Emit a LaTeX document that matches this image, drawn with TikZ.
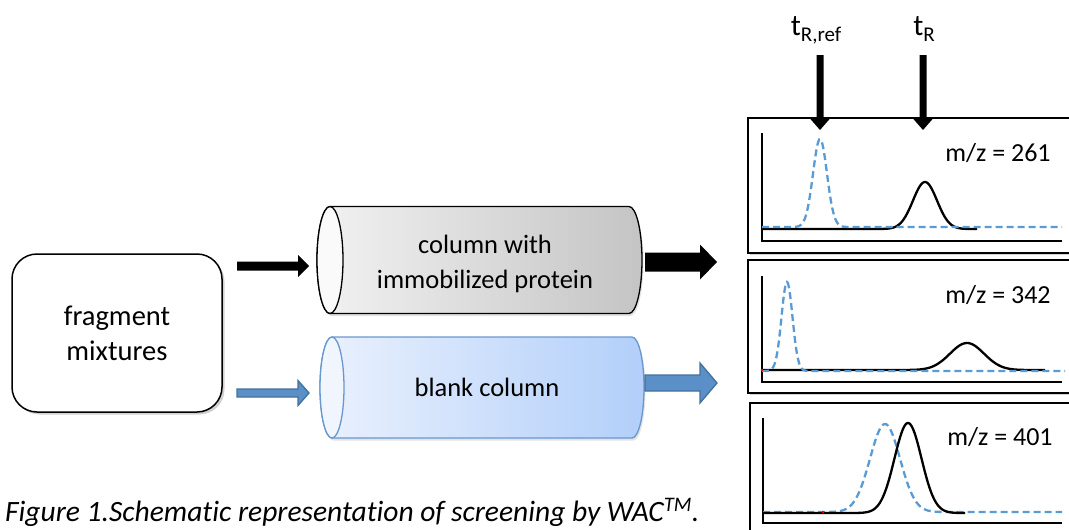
\documentclass[tikz,border=0pt]{standalone}
\usepackage{fontspec}
\setmainfont{Carlito}[Ligatures=NoCommon]
\usetikzlibrary{shadows}

\definecolor{refblue}{RGB}{91,155,213}
\definecolor{arrblue}{RGB}{91,143,199}
\definecolor{arrblueline}{RGB}{65,113,156}
\definecolor{cylblueline}{RGB}{104,152,206}
\definecolor{cylblueL}{RGB}{234,241,253}
\definecolor{cylblueR}{RGB}{178,207,250}
\definecolor{cylblueface}{RGB}{241,246,254}
\definecolor{cylgrayL}{RGB}{242,242,242}
\definecolor{cylgrayR}{RGB}{196,196,196}

% outline of a lying cylinder: flat face on the left, rounded end on the right
\newcommand\cylpath[5]{(#1,#3-#5) -- (#2,#3-#5)
  arc[start angle=-90,end angle=90,x radius=#4,y radius=#5]
  -- (#1,#3+#5)
  arc[start angle=90,end angle=270,x radius=#4,y radius=#5] -- cycle}

\begin{document}
\begin{tikzpicture}[x=1pt,y=-1pt,
  txt/.style={font=\fontsize{26.5}{35}\selectfont, align=center, inner sep=0pt},
  softshadow/.style={drop shadow={shadow xshift=2.5pt, shadow yshift=-2.5pt,
      opacity=0.3, fill=black!60}},
  lightshadow/.style={drop shadow={shadow xshift=1.5pt, shadow yshift=-2.5pt,
      opacity=0.18, fill=black!60}},
  panel/.style={draw=black, line width=1.5pt, fill=white, softshadow,
      anchor=north west, inner sep=0pt, minimum width=340pt},
  axis/.style={line width=2.8pt, black},
  sig/.style={line width=2.3pt, black},
  refsig/.style={line width=2.3pt, refblue, dash pattern=on 7pt off 4pt},
  pics/barrow/.style args={#1/#2/#3/#4}{code={
      \path[pic actions] (0,-#2) -- ({#1-#4},-#2) -- ({#1-#4},-#3) -- (#1,0)
        -- ({#1-#4},#3) -- ({#1-#4},#2) -- (0,#2) -- cycle;}},
  blackarrow/.style={fill=black},
  bluearrow/.style={fill=arrblue, draw=arrblueline, line width=1.3pt}
]
\useasboundingbox (0,0) rectangle (1069,530);
\clip (0,0) rectangle (1069,530);

% sample box
\node[draw, line width=1.5pt, rounded corners=25pt, fill=white, softshadow,
      minimum width=210pt, minimum height=158pt,
      font=\fontsize{28.5}{35}\selectfont, align=center] (frag) at (117,333)
      {fragment\\mixtures};

% column with immobilized protein
\path[draw, line width=1.3pt, left color=cylgrayL, right color=cylgrayR, lightshadow]
  \cylpath{330}{629}{260}{13}{53.5};
\filldraw[fill=white!96!gray, line width=1.3pt] (330,260) ellipse[x radius=13, y radius=53.5];
\node[txt] (colP) at (485,264) {column with\\immobilized protein};

% blank column
\path[draw=cylblueline, line width=1.3pt, left color=cylblueL, right color=cylblueR, lightshadow]
  \cylpath{332}{632}{387.5}{12}{50.5};
\filldraw[fill=cylblueface, draw=cylblueline, line width=1.3pt]
  (332,387.5) ellipse[x radius=12, y radius=50.5];
\node[txt] (colB) at (487,387) {blank column};

% flow arrows
\pic[blackarrow] (inP) at (237,266) {barrow=72/4.5/11/11};
\pic[blackarrow] (outP) at (645,262) {barrow=72/9.5/17.5/17};
\pic[bluearrow] (inB) at (237,393) {barrow=72/4/12.5/11};
\pic[bluearrow] (outB) at (645,383) {barrow=72/8/20/17};

% chromatogram panels
\node[panel, minimum height=135pt] (p1) at (747,117) {};
\node[panel, minimum height=133pt] (p2) at (747,259) {};
\node[panel, minimum height=140pt] (p3) at (749,402) {};

% panel 1: m/z 261
\draw[axis] (762,133) -- (762,241) -- (1062,241);
\draw[sig] plot[domain=762:977, samples=160, smooth]
  (\x,{229-47*exp(-min(((\x-925)/12)^2/2,30))});
\draw[refsig] plot[domain=762:1062, samples=200, smooth]
  (\x,{227-88*exp(-min(((\x-820)/7)^2/2,30))});
\node[txt, font=\fontsize{26}{30}\selectfont] (mz1) at (998,153) {m/z = 261};

% panel 2: m/z 342
\draw[axis] (762,276) -- (762,382) -- (1062,382);
\draw[sig] plot[domain=762:1045, samples=160, smooth]
  (\x,{370-27*exp(-min(((\x-967)/17)^2/2,30))});
\draw[refsig] plot[domain=762:1065, samples=220, smooth]
  (\x,{371-89*exp(-min(((\x-787)/5.5)^2/2,30))});
\fill[red] (762,370) circle (1.3);
\node[txt, font=\fontsize{26}{30}\selectfont] (mz2) at (998,295) {m/z = 342};

% panel 3: m/z 401
\draw[axis] (763,418) -- (763,523) -- (1062,523);
\draw[refsig] plot[domain=763:1062, samples=200, smooth]
  (\x,{512-88*exp(-min(((\x-885)/15)^2/2,30))});
\draw[sig] plot[domain=763:965, samples=160, smooth]
  (\x,{513-90*exp(-min(((\x-908)/13.5)^2/2,30))});
\fill[red] (823,512) circle (1.3);
\node[txt, font=\fontsize{26}{30}\selectfont] (mz3) at (1000,437) {m/z = 401};

% retention time markers
\node[anchor=base, inner sep=0pt, font=\fontsize{30}{32}\selectfont] (tref) at (816,35)
  {t\raisebox{-6.5pt}{\fontsize{21}{22}\selectfont R,ref}};
\node[anchor=base, inner sep=0pt, font=\fontsize{30}{32}\selectfont] (tr) at (924,35)
  {t\raisebox{-6.5pt}{\fontsize{21}{22}\selectfont R}};
\pic[blackarrow, rotate=-90] (aref) at (820,55) {barrow=75/3.5/10.5/12};
\pic[blackarrow, rotate=-90] (ar) at (923,55) {barrow=75/3.5/10.5/12};

% caption
\node[anchor=base west, inner sep=0pt, font=\fontsize{29.5}{32}\selectfont\itshape] (cap)
  at (5,521) {Figure 1.Schematic representation of screening by WAC\textsuperscript{TM}.};
\end{tikzpicture}
\end{document}
